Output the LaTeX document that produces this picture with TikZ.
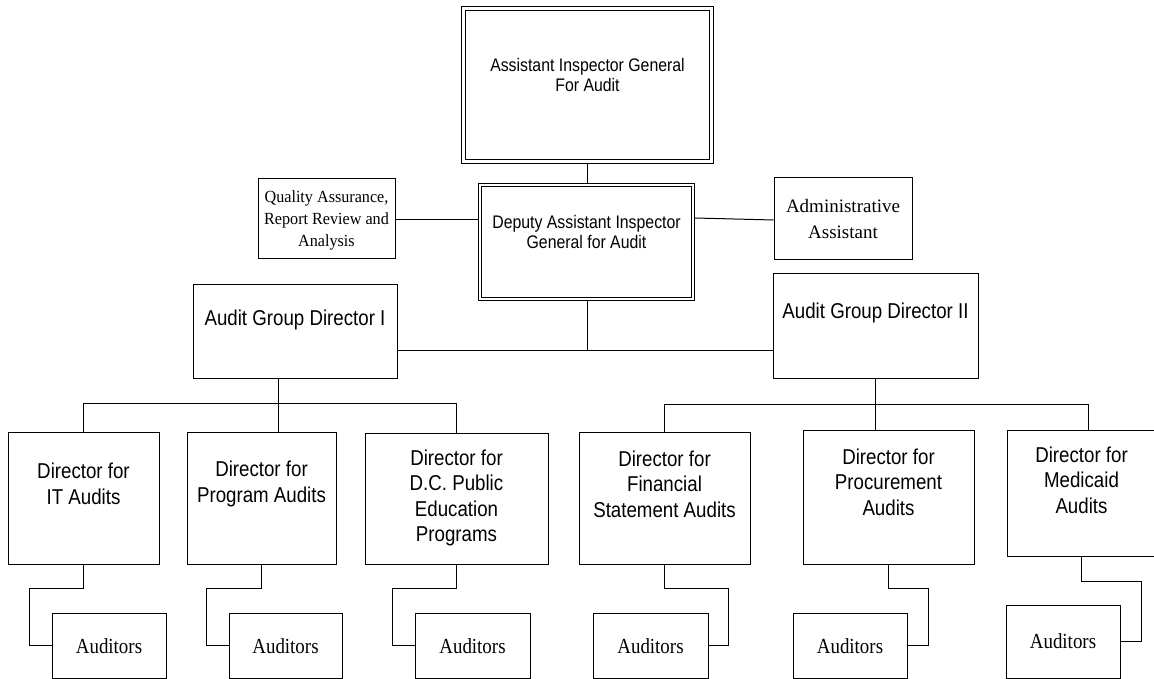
\documentclass[tikz,border=0pt]{standalone}
\usepackage{fontspec}
\setmainfont{Liberation Serif}
\newfontfamily\arialfont[FakeStretch=0.87]{Liberation Sans}
\newfontfamily\timesnarrow[FakeStretch=0.88]{Liberation Serif}
\newfontfamily\timesslight[FakeStretch=0.95]{Liberation Serif}
\begin{document}
\begin{tikzpicture}[x=1pt,y=-1pt,
  box/.style={draw, line width=1pt, rectangle, inner sep=0pt, outer sep=0.5pt},
  dbox/.style={draw, line width=1pt, double, double distance=2.3pt, rectangle, inner sep=0pt, outer sep=2.15pt},
  link/.style={draw, line width=1pt},
  headtxt/.style={font=\arialfont\fontsize{18.2}{20.5}\selectfont, align=center, inner sep=0pt},
  dirtxt/.style={font=\arialfont\fontsize{21.5}{25.5}\selectfont, align=center, inner sep=0pt},
  audtxt/.style={font=\timesnarrow\fontsize{21.5}{24}\selectfont, align=center, inner sep=0pt},
  sidetxt/.style={font=\fontsize{19}{26}\selectfont, align=center, inner sep=0pt},
  qatxt/.style={font=\timesslight\fontsize{17}{22}\selectfont, align=center, inner sep=0pt}]

\path[fill=white] (0,0) rectangle (1154,679);
\useasboundingbox (0,0) rectangle (1154,679);

% top management
\node[dbox, minimum width=248pt, minimum height=153pt] (aig) at (587.5,85) {};
\node[headtxt] (aigT) at (587.5,75) {Assistant Inspector General\\For Audit};
\node[dbox, minimum width=213pt, minimum height=114pt] (daig) at (586.5,242) {};
\node[headtxt] (daigT) at (586.5,232) {Deputy Assistant Inspector\\General for Audit};

% staff boxes
\node[box, minimum width=137pt, minimum height=79pt] (qa) at (326.5,218.5) {};
\node[qatxt] (qaT) at (326.5,220) {Quality Assurance,\\Report Review and\\Analysis};
\node[box, minimum width=138pt, minimum height=81pt] (adm) at (843,218.5) {};
\node[sidetxt] (admT) at (843,219) {Administrative\\Assistant};

% audit group directors
\node[box, minimum width=204pt, minimum height=94pt] (agd1) at (295,331) {};
\node[dirtxt] (agd1T) at (295,320) {Audit Group Director I};
\node[box, minimum width=205pt, minimum height=105pt] (agd2) at (875.5,325.5) {};
\node[dirtxt] (agd2T) at (875.5,313) {Audit Group Director II};

% directors
\node[box, minimum width=151pt, minimum height=132pt] (it) at (83.5,498) {};
\node[dirtxt] (itT) at (83.5,484) {Director for\\IT Audits};
\node[box, minimum width=149pt, minimum height=132pt] (prog) at (261.5,498) {};
\node[dirtxt] (progT) at (261.5,484) {Director for\\Program Audits};
\node[box, minimum width=183pt, minimum height=131pt] (dc) at (456.5,498.5) {};
\node[dirtxt] (dcT) at (456.5,498) {Director for\\D.C. Public\\Education\\Programs};
\node[box, minimum width=171pt, minimum height=132pt] (fin) at (664.5,498) {};
\node[dirtxt] (finT) at (664.5,484) {Director for\\Financial\\Statement Audits};
\node[box, minimum width=171pt, minimum height=134pt] (proc) at (888.5,497) {};
\node[dirtxt] (procT) at (888.5,482) {Director for\\Procurement\\Audits};
\node[box, minimum width=149pt, minimum height=126pt] (med) at (1081.5,493) {};
\node[dirtxt] (medT) at (1081.5,480) {Director for\\Medicaid\\Audits};

% auditors
\node[box, minimum width=114pt, minimum height=65pt] (a1) at (109,645.5) {};
\node[audtxt] (a1T) at (109,646) {Auditors};
\node[box, minimum width=113pt, minimum height=65pt] (a2) at (285.5,645.5) {};
\node[audtxt] (a2T) at (285.5,646) {Auditors};
\node[box, minimum width=115pt, minimum height=65pt] (a3) at (472.5,645.5) {};
\node[audtxt] (a3T) at (472.5,646) {Auditors};
\node[box, minimum width=115pt, minimum height=65pt] (a4) at (650.5,645.5) {};
\node[audtxt] (a4T) at (650.5,646) {Auditors};
\node[box, minimum width=114pt, minimum height=65pt] (a5) at (850,645.5) {};
\node[audtxt] (a5T) at (850,646) {Auditors};
\node[box, minimum width=114pt, minimum height=73pt] (a6) at (1063,641.5) {};
\node[audtxt] (a6T) at (1063,641) {Auditors};

% bus coordinates
\coordinate (busTop) at (587,350);
\coordinate (busL) at (278,403);
\coordinate (busR) at (875,404);
\coordinate (busRend) at (1088,404);

% upper connectors
\draw[link] (aig.south -| busTop) -- (daig.north -| busTop);
\draw[link] (qa.east |- 0,220) -- (daig.west |- 0,220);
\draw[link] (daig.east |- 0,218) -- (adm.west |- 0,220);
\draw[link] (daig.south -| busTop) -- (busTop);
\draw[link] (agd1.east |- busTop) -- (agd2.west |- busTop);

% left group
\draw[link] (agd1.south -| busL) -- (prog.north -| busL);
\draw[link] (it.north) -- (it.north |- busL) -- (dc.north |- busL) -- (dc.north);

% right group
\draw[link] (agd2.south -| busR) -- (proc.north -| busR);
\draw[link] (fin.north) -- (fin.north |- busR) -- (busRend) -- (med.north -| busRend);

% director to auditors
\draw[link] (it.south) -- ++(0,24) -- ++(-54,0) |- (a1.west);
\draw[link] (prog.south) -- ++(0,24) -- ++(-55,0) |- (a2.west);
\draw[link] (dc.south) -- ++(0,24) -- ++(-64,0) |- (a3.west);
\draw[link] (fin.south) -- ++(0,24) -- ++(64,0) |- (a4.east);
\draw[link] (proc.south) -- ++(0,24) -- ++(40,0) |- (a5.east);
\draw[link] (med.south) -- ++(0,25) -- ++(60,0) |- (a6.east);
\end{tikzpicture}
\end{document}
